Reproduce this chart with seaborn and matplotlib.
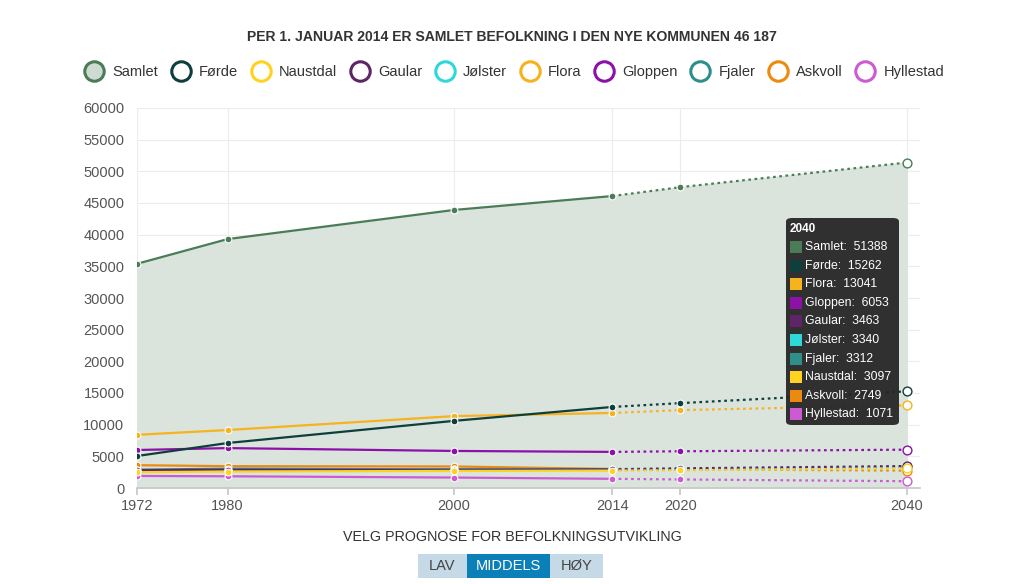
import matplotlib
matplotlib.use("Agg")
import matplotlib.pyplot as plt
import seaborn as sns
import pandas as pd
from matplotlib.lines import Line2D
from matplotlib.patches import FancyBboxPatch, Rectangle

years = [1972, 1980, 2000, 2014, 2020, 2040]
samlet = [35400, 39300, 43900, 46100, 47500, 51388]
forde = [5050, 7100, 10600, 12800, 13400, 15262]
naustdal = [2500, 2600, 2700, 2750, 2800, 3097]
gaular = [2800, 2900, 2900, 2950, 3100, 3463]
jolster = [2700, 2900, 3000, 3000, 3050, 3340]
flora = [8400, 9150, 11350, 11850, 12300, 13041]
gloppen = [6000, 6300, 5850, 5700, 5800, 6053]
fjaler = [2900, 3050, 2950, 2850, 2900, 3312]
askvoll = [3600, 3450, 3400, 3000, 2950, 2749]
hyllestad = [1900, 1850, 1650, 1450, 1350, 1071]

names = ["Samlet", "Førde", "Naustdal", "Gaular", "Jølster", "Flora",
         "Gloppen", "Fjaler", "Askvoll", "Hyllestad"]
series = [samlet, forde, naustdal, gaular, jolster, flora,
          gloppen, fjaler, askvoll, hyllestad]
colors = ["#4a7d57", "#0e3f3c", "#ffd21f", "#5e2466", "#2ed8d8", "#f7b21e",
          "#8d10a8", "#2e8e8a", "#ec8a10", "#cc5bd2"]
last_known = 2014

df = pd.DataFrame({"year": years})
for n, s in zip(names, series):
    df[n] = s
long = df.melt(id_vars="year", var_name="kommune", value_name="befolkning")

sns.set_theme(style="white")
plt.rcParams["font.family"] = ["Liberation Sans", "DejaVu Sans"]

fig = plt.figure(figsize=(10.24, 5.84), dpi=100)
ax = fig.add_axes([137 / 1024, 1 - 488 / 584, (920 - 137) / 1024, (488 - 108) / 584])

# area under Samlet
ax.fill_between(df["year"], 0, df["Samlet"], color="#dae4dd", zorder=1)

order = list(range(len(names)))[::-1]
for i in order:
    n, c = names[i], colors[i]
    d = long[long["kommune"] == n]
    hist = d[d["year"] <= last_known]
    prog = d[d["year"] >= last_known]
    sns.lineplot(data=hist, x="year", y="befolkning", color=c, lw=1.6, ax=ax,
                 zorder=3, legend=False)
    sns.lineplot(data=prog, x="year", y="befolkning", color=c, lw=1.6, ax=ax,
                 zorder=3, legend=False, linestyle=(0, (1.2, 1.6)))
    known = d[d["year"] < years[-1]]
    ax.scatter(known["year"], known["befolkning"], s=24, color=c,
               edgecolor="white", linewidth=0.8, zorder=4)
    end = d[d["year"] == years[-1]]
    ax.scatter(end["year"], end["befolkning"], s=40, facecolor="white",
               edgecolor=c, linewidth=1.0, zorder=4)

ax.set_xlim(1972, 1972 + (920 - 137) / 11.32)
ax.set_ylim(0, 60000)
ax.set_xticks(years)
ax.set_yticks(range(0, 60001, 5000))
ax.set_xlabel("")
ax.set_ylabel("")
ax.grid(True, color="#ececec", lw=0.8, zorder=0)
ax.set_axisbelow(True)
for sp in ["top", "right", "left"]:
    ax.spines[sp].set_visible(False)
ax.spines["bottom"].set_color("#c8c8c8")
ax.tick_params(axis="y", length=0, labelsize=10.5, colors="#555555", pad=9)
ax.tick_params(axis="x", length=5, color="#c8c8c8", labelsize=10.5,
               colors="#555555", pad=3, bottom=True)

fig.text(0.5, 1 - 37 / 584, "PER 1. JANUAR 2014 ER SAMLET BEFOLKNING I DEN NYE KOMMUNEN 46 187",
         ha="center", va="center", fontsize=10.1, fontweight="bold", color="#333333")

# legend
handles = []
for i, (n, c) in enumerate(zip(names, colors)):
    face = "#cfdbd2" if i == 0 else "white"
    handles.append(Line2D([], [], marker="o", linestyle="", markersize=14,
                          markerfacecolor=face, markeredgecolor=c,
                          markeredgewidth=2.2, label=n))
fig.legend(handles=handles, loc="center", bbox_to_anchor=(0.5, 1 - 72 / 584),
           ncol=10, frameon=False, fontsize=10.5, handletextpad=0.25,
           columnspacing=0.55, labelcolor="#333333")

# tooltip
tx0, ty0, tx1, ty1 = 786, 218, 899, 425
tip = FancyBboxPatch((tx0 / 1024, 1 - ty1 / 584), (tx1 - tx0) / 1024, (ty1 - ty0) / 584,
                     boxstyle="round,pad=0,rounding_size=0.006", transform=fig.transFigure,
                     facecolor="#262626", edgecolor="none", alpha=0.95, zorder=10)
fig.patches.append(tip)
fig.text(790 / 1024, 1 - 229 / 584, str(years[-1]), color="white", fontsize=8.5,
         fontweight="bold", va="center", zorder=11)
tip_rows = sorted(zip(names, [s[-1] for s in series], colors), key=lambda r: -r[1])
for k, (n, v, c) in enumerate(tip_rows):
    yy = 247 + k * 18.6
    fig.patches.append(Rectangle((790 / 1024, 1 - (yy + 6) / 584), 12 / 1024, 12 / 584,
                                 transform=fig.transFigure, facecolor=c,
                                 edgecolor="none", zorder=11))
    fig.text(805 / 1024, 1 - yy / 584, f"{n}:  {v}", color="white", fontsize=8.8,
             va="center", zorder=11)

# bottom controls
fig.text(0.5, 1 - 537 / 584, "VELG PROGNOSE FOR BEFOLKNINGSUTVIKLING", ha="center",
         va="center", fontsize=10.3, color="#333333")
buttons = [("LAV", 418, 467, "#c5d9e6", "#444444"),
           ("MIDDELS", 467, 550, "#0b7fb8", "white"),
           ("HØY", 550, 603, "#c5d9e6", "#444444")]
for lab, x0, x1, fc, tc in buttons:
    fig.patches.append(Rectangle((x0 / 1024, 1 - 578 / 584), (x1 - x0) / 1024, 24 / 584,
                                 transform=fig.transFigure, facecolor=fc,
                                 edgecolor="none"))
    fig.text((x0 + x1) / 2 / 1024, 1 - 566 / 584, lab, ha="center", va="center",
             fontsize=10.5, color=tc)

fig.savefig("out.png", dpi=100)
